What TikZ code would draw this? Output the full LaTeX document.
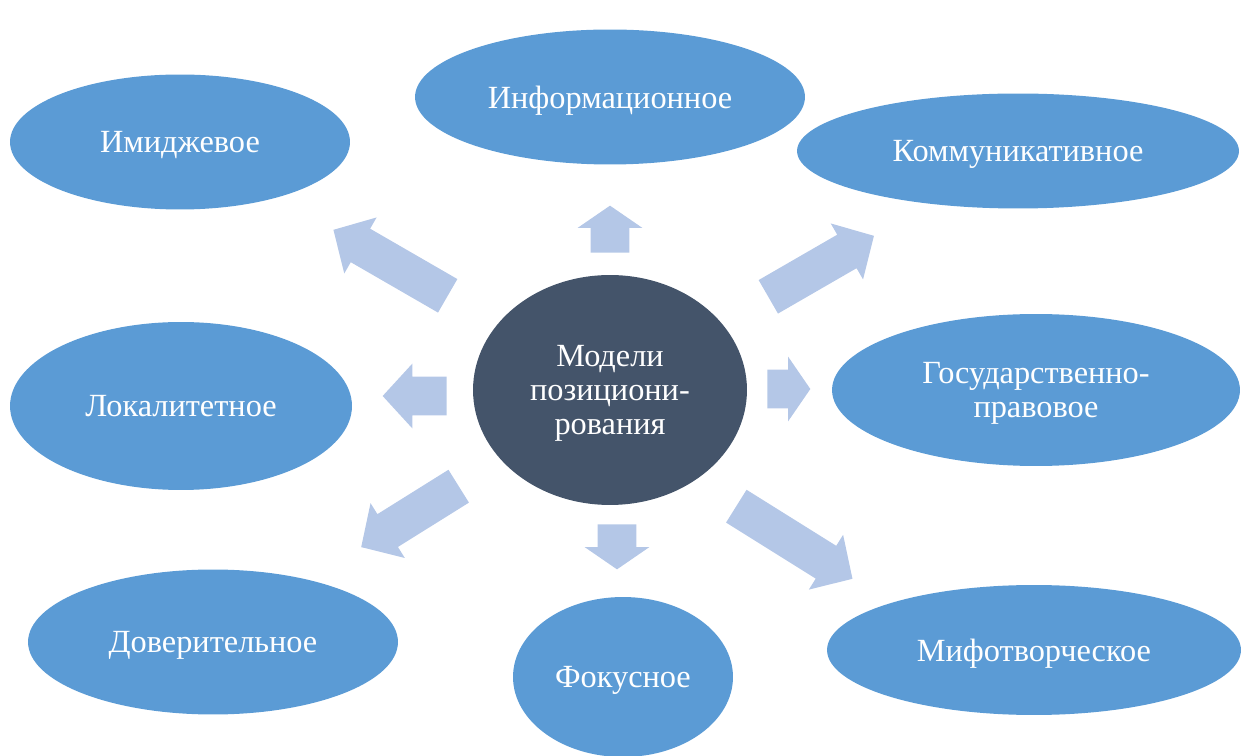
\documentclass[tikz,border=0pt]{standalone}
\usepackage{fontspec}
\setmainfont{Liberation Serif}
\usetikzlibrary{shapes.geometric,shapes.arrows}
\definecolor{modelblue}{HTML}{5B9BD5}
\definecolor{coreslate}{HTML}{44546A}
\definecolor{arrowblue}{HTML}{B4C7E7}
\tikzset{
  model/.style={ellipse,fill=modelblue,inner sep=0pt,text=white,align=center,
    text depth=0pt,font=\fontsize{18.4}{19.5}\selectfont},
  core/.style={model,fill=coreslate},
  blockarrow/.style={single arrow,fill=arrowblue,inner xsep=0pt,inner ysep=0.38cm,
    single arrow head extend=0.26cm,single arrow head indent=0pt,anchor=tail},
}
\begin{document}
\begin{tikzpicture}[x=0.02cm,y=-0.02cm]
\useasboundingbox (0,0) rectangle (1241,756);
% centre
\node[core,minimum width=5.48cm,minimum height=4.6cm] (core) at (610,390) {Модели\\позициони-\\рования};
% models
\node[model,minimum width=7.8cm,minimum height=2.7cm] (inf) at (610,97) {Информационное};
\node[model,minimum width=6.8cm,minimum height=2.7cm] (img) at (180,142) {Имиджевое};
\node[model,minimum width=8.84cm,minimum height=2.3cm] (com) at (1018,151) {Коммуникативное};
\node[model,minimum width=8.16cm,minimum height=3.04cm] (gos) at (1036,390) {Государственно-\\правовое};
\node[model,minimum width=6.84cm,minimum height=3.36cm] (loc) at (181,406) {Локалитетное};
\node[model,minimum width=7.4cm,minimum height=2.9cm] (dov) at (213,642) {Доверительное};
\node[model,minimum width=4.4cm,minimum height=3.2cm] (fok) at (623,677) {Фокусное};
\node[model,minimum width=8.28cm,minimum height=2.6cm] (mif) at (1034,650) {Мифотворческое};
% arrows, placed at their tails
\node[blockarrow,rotate=90,single arrow tip angle=111,minimum height=0.94cm] (toinf) at (610,253) {};
\node[blockarrow,rotate=150,single arrow tip angle=92,minimum height=2.64cm] (toimg) at (448,296) {};
\node[blockarrow,rotate=30,single arrow tip angle=92,minimum height=2.44cm] (tocom) at (768,297) {};
\node[blockarrow,rotate=180,single arrow tip angle=95,minimum height=1.28cm] (toloc) at (447,396) {};
\node[blockarrow,rotate=0,single arrow tip angle=111,minimum height=0.86cm] (togos) at (767,389) {};
\node[blockarrow,rotate=212,single arrow tip angle=92,minimum height=2.3cm] (todov) at (459,486) {};
\node[blockarrow,rotate=270,single arrow tip angle=111,minimum height=0.9cm] (tofok) at (617,524) {};
\node[blockarrow,rotate=-32,single arrow tip angle=92,minimum height=2.74cm] (tomif) at (736,506) {};
\end{tikzpicture}
\end{document}
